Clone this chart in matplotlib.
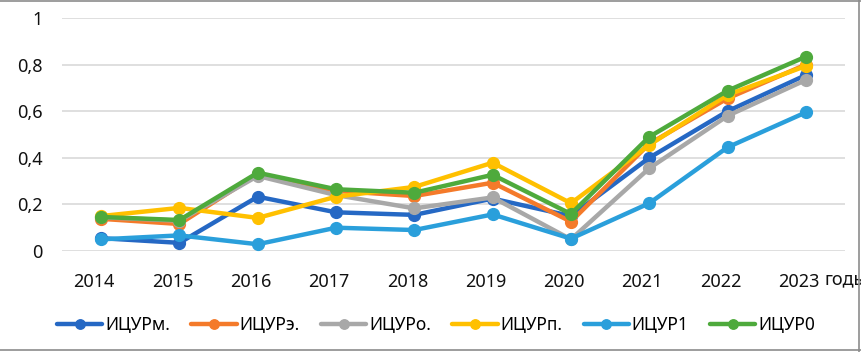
import numpy as np
import matplotlib
matplotlib.use("Agg")
import matplotlib.pyplot as plt
import matplotlib.transforms as mtransforms
from matplotlib.lines import Line2D

plt.rcParams["font.family"] = ["Noto Sans", "DejaVu Sans"]

# ─── data ────────────────────────────────────────────────────────────
years = ["2014", "2015", "2016", "2017", "2018", "2019", "2020", "2021", "2022", "2023"]

icur_m = [0.055, 0.035, 0.233, 0.166, 0.155, 0.225, 0.150, 0.400, 0.600, 0.755]
icur_e = [0.138, 0.116, 0.330, 0.258, 0.236, 0.293, 0.126, 0.460, 0.655, 0.800]
icur_o = [0.145, 0.130, 0.322, 0.240, 0.183, 0.230, 0.050, 0.355, 0.580, 0.734]
icur_p = [0.150, 0.185, 0.142, 0.233, 0.275, 0.379, 0.205, 0.455, 0.670, 0.794]
icur_1 = [0.050, 0.067, 0.029, 0.100, 0.090, 0.157, 0.053, 0.205, 0.445, 0.595]
icur_0 = [0.146, 0.133, 0.336, 0.265, 0.250, 0.327, 0.159, 0.490, 0.688, 0.834]

series = [
    ("ИЦУРм.", icur_m, "#2568C4"),
    ("ИЦУРэ.", icur_e, "#F47A2A"),
    ("ИЦУРо.", icur_o, "#A8A8A8"),
    ("ИЦУРп.", icur_p, "#FFC000"),
    ("ИЦУР1", icur_1, "#2A9FDB"),
    ("ИЦУР0", icur_0, "#4EAA3C"),
]
# ─────────────────────────────────────────────────────────────────────

fig = plt.figure(figsize=(8.61, 3.52), dpi=100)
ax = fig.add_axes([62 / 861, 1 - 251 / 352, (845 - 62) / 861, (251 - 18) / 352])

x = np.arange(len(years))
for name, vals, col in series:
    ax.plot(x, vals, color=col, lw=3.2, marker="o", ms=8.5, label=name,
            solid_joinstyle="round", solid_capstyle="round")

ax.set_xlim(-0.5, len(years) - 0.5)
ax.set_ylim(0, 1)
ax.set_yticks([0, 0.2, 0.4, 0.6, 0.8, 1.0])
ax.set_yticklabels(["0", "0,2", "0,4", "0,6", "0,8", "1"])
ax.set_xticks(x)
ax.set_xticklabels(years)
ax.tick_params(axis="both", length=0, labelsize=13, colors="#111111")
ax.tick_params(axis="y", pad=14)
ax.tick_params(axis="x", pad=15.5)
ax.grid(axis="y", color="#D9D9D9", lw=1.2)
ax.set_axisbelow(True)
for s in ax.spines.values():
    s.set_visible(False)

# year labels sit a little left of their points in the reference
shift = mtransforms.ScaledTranslation(-5 / 72, 0, fig.dpi_scale_trans)
for lbl in ax.get_xticklabels():
    lbl.set_transform(lbl.get_transform() + shift)

# axis unit label right of the last year
ax.text(825 / 861, 1 - 279 / 352, "годы", transform=fig.transFigure,
        fontsize=13, va="center", ha="left", color="#111111")

leg = fig.legend(loc="center", bbox_to_anchor=(436 / 861, 1 - 325 / 352),
                 ncol=6, frameon=False, fontsize=12.5, handlelength=2.6,
                 handletextpad=0.15, columnspacing=1.25, markerscale=0.8)

# grey frame (top, right, bottom)
for xs, ys in [((0, 1), (0.998, 0.998)), ((0.998, 0.998), (0, 1)), ((0, 1), (0.006, 0.006))]:
    fig.add_artist(Line2D(xs, ys, transform=fig.transFigure, color="#8C8C8C", lw=1.2))

fig.savefig("out.png", dpi=100)
